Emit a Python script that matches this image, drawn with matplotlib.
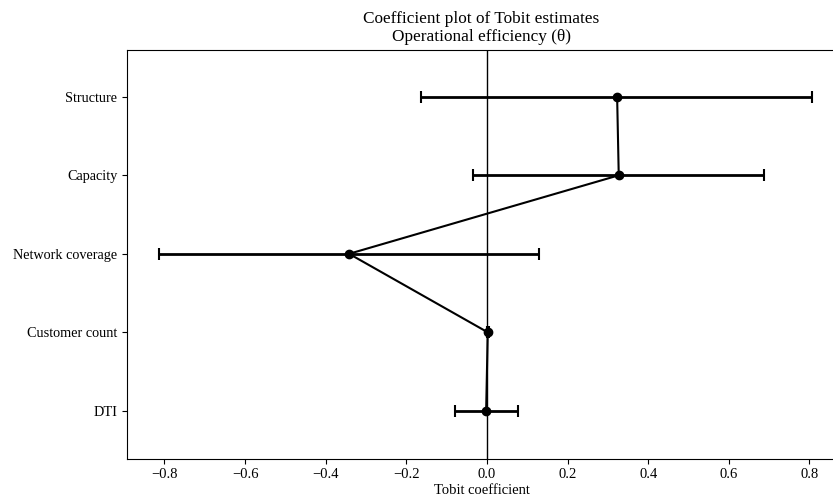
import matplotlib
matplotlib.use("Agg")
import matplotlib.pyplot as plt
import numpy as np

plt.rcParams['font.family'] = ['Liberation Serif', 'DejaVu Serif']
plt.rcParams['axes.unicode_minus'] = True

categories = ["DTI", "Customer count", "Network coverage", "Capacity", "Structure"]
coef = [-0.002, 0.002, -0.342, 0.327, 0.323]
ci_low = [-0.079, 0.000, -0.814, -0.035, -0.164]
ci_high = [0.077, 0.004, 0.130, 0.687, 0.806]
xticks = [-0.8, -0.6, -0.4, -0.2, 0.0, 0.2, 0.4, 0.6, 0.8]

fig = plt.figure(figsize=(8.33, 4.99), dpi=100)
ax = fig.add_axes([127/833, 1 - 458.7/499, (836 - 127)/833, (458.7 - 49.7)/499])

y = np.arange(len(categories))
coef = np.array(coef)
lo = coef - np.array(ci_low)
hi = np.array(ci_high) - coef
ax.axvline(0, color='black', lw=1.0, zorder=1)
ax.errorbar(coef, y, xerr=[lo, hi], fmt='o-', color='black', ecolor='black',
            elinewidth=2.0, capsize=4, capthick=1.5, markersize=6, lw=1.5, zorder=3)

ax.set_yticks(y)
ax.set_yticklabels(categories, fontsize=10.3)
ax.set_xticks(xticks)
ax.set_xticklabels([f"{t:.1f}".replace('-', '\u2212') for t in xticks], fontsize=10.5)
ax.set_xlim(-0.893, 0.866)
ax.set_ylim(-0.61, 4.6)
ax.set_xlabel("Tobit coefficient", fontsize=10.5, labelpad=2)
ax.set_title("Coefficient plot of Tobit estimates\nOperational efficiency (\u03b8)", fontsize=12.4, pad=6)

fig.savefig("out.png", dpi=100)
